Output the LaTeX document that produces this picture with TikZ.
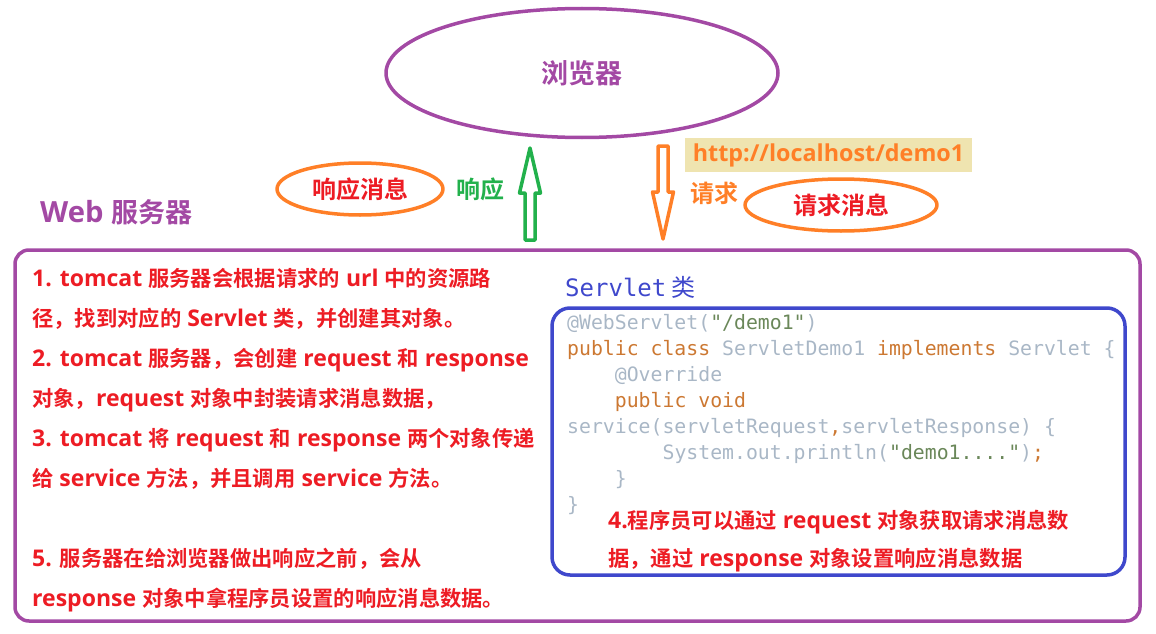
\documentclass[tikz,border=0pt]{standalone}
\usepackage{fontspec}
\setmainfont{Noto Sans CJK SC}[BoldFont={Noto Sans CJK SC Bold}]
\newfontfamily\codefont{DejaVu Sans Mono}
\newfontfamily\latinfont{Open Sans}[Scale=1.08]
\usepackage{xcolor}
\usetikzlibrary{shapes.geometric, positioning}

\definecolor{srvpurple}{HTML}{A349A4}
\definecolor{msgorange}{HTML}{FF7F27}
\definecolor{noteRed}{HTML}{ED1C24}
\definecolor{respGreen}{HTML}{22B14C}
\definecolor{clsBlue}{HTML}{3F48CC}
\definecolor{urlBg}{HTML}{EFE4B0}
\definecolor{codeGray}{HTML}{A9B7C6}
\definecolor{codeKw}{HTML}{CC7832}
\definecolor{codeStr}{HTML}{6A8759}

\newcommand{\cpl}[1]{\textcolor{codeGray}{#1}}
\newcommand{\ckw}[1]{\textcolor{codeKw}{#1}}
\newcommand{\cst}[1]{\textcolor{codeStr}{#1}}
\newcommand{\lt}[1]{{\latinfont #1}}

\begin{document}
\begin{tikzpicture}[x=1pt, y=-1pt, line join=round,
  msgellipse/.style={ellipse, draw=msgorange, line width=3.5pt, minimum width=166pt, minimum height=52pt, inner sep=0pt,
    text=noteRed, font=\fontsize{24}{28}\selectfont\bfseries},
  notetext/.style={anchor=base west, inner sep=0pt, text=noteRed, font=\fontsize{21.3}{24}\selectfont\bfseries},
  codetext/.style={anchor=base west, inner sep=0pt, font=\codefont\fontsize{19.8}{24}\selectfont},
  blockarrow/.style={line width=3.5pt, fill=white}]
\useasboundingbox (0,0) rectangle (1156,634);

% browser
\node[ellipse, draw=srvpurple, line width=3.5pt, minimum width=392pt, minimum height=129pt,
  text=srvpurple, font=\fontsize{27}{30}\selectfont\bfseries] (browser) at (582,73) {浏览器};

% response side
\node[msgellipse] (respmsg) at (360,189) {响应消息};
\node[text=respGreen, font=\fontsize{24}{28}\selectfont\bfseries, right=8pt of respmsg] (resp) {响应};
\draw[blockarrow, draw=respGreen] (530,148) -- (540.5,193) -- (535,193) -- (535,240) -- (525,240) -- (525,193) -- (519.5,193) -- cycle;

% request side
\draw[blockarrow, draw=msgorange] (658,146) -- (668,146) -- (668,192) -- (673.5,192) -- (663,239) -- (652.5,192) -- (658,192) -- cycle;
\node[fill=urlBg, text=msgorange, inner sep=1pt, minimum width=287pt, minimum height=34pt, font=\latinfont\fontsize{21.6}{28}\selectfont\bfseries] (url) at (828.5,155) {http://localhost/demo1};
\node[text=msgorange, font=\fontsize{24}{28}\selectfont\bfseries] (req) at (714,193) {请求};
\node[msgellipse, minimum width=192pt] (reqmsg) at (841,205) {请求消息};

% web server
\node[anchor=base west, inner sep=0pt, text=srvpurple, font=\fontsize{27}{30}\selectfont\bfseries] (webtitle) at (40,222) {\lt{Web }服务器};
\draw[srvpurple, line width=3.5pt, rounded corners=14pt] (15,250) rectangle (1140,621);

\foreach \ny/\ntext [count=\i] in {
  286/{\lt{1. tomcat }服务器会根据请求的\lt{ url }中的资源路},
  326/{径，找到对应的\lt{ Servlet }类，并创建其对象。},
  366/{\lt{2. tomcat }服务器，会创建\lt{ request }和\lt{ response}},
  406/{对象，\lt{request }对象中封装请求消息数据，},
  446/{\lt{3. tomcat }将\lt{ request }和\lt{ response }两个对象传递},
  486/{给\lt{ service }方法，并且调用\lt{ service }方法。},
  566/{\lt{5. }服务器在给浏览器做出响应之前，会从},
  606/{\lt{response }对象中拿程序员设置的响应消息数据。}}
  \node[notetext] (note\i) at (32,\ny) {\ntext};

% servlet class
\node[anchor=base west, inner sep=0pt, text=clsBlue, font=\fontsize{24}{28}\selectfont] (clstitle) at (565,296) {{\codefont Servlet} 类};
\draw[clsBlue, line width=3.5pt, rounded corners=18pt] (552,308) rectangle (1125,575);

\foreach \cx/\cy/\ctext [count=\i] in {
  567/329/{\cpl{@WebServlet(}\cst{"/demo1"}\cpl{)}},
  567/355/{\ckw{public class }\cpl{ServletDemo1 }\ckw{implements }\cpl{Servlet \{}},
  614.7/381/{\cpl{@Override}},
  614.7/407/{\ckw{public void}},
  567/433/{\cpl{service(servletRequest}\ckw{,}\cpl{servletResponse) \{}},
  662.4/459/{\cpl{System.out.println(}\cst{"demo1...."}\cpl{)}\ckw{;}},
  614.7/485/{\cpl{\}}},
  567/511/{\cpl{\}}}}
  \node[codetext] (code\i) at (\cx,\cy) {\ctext};

\node[notetext] (step4a) at (608,528) {\lt{4.}程序员可以通过\lt{ request }对象获取请求消息数};
\node[notetext] (step4b) at (608,566) {据，通过\lt{ response }对象设置响应消息数据};
\end{tikzpicture}
\end{document}
